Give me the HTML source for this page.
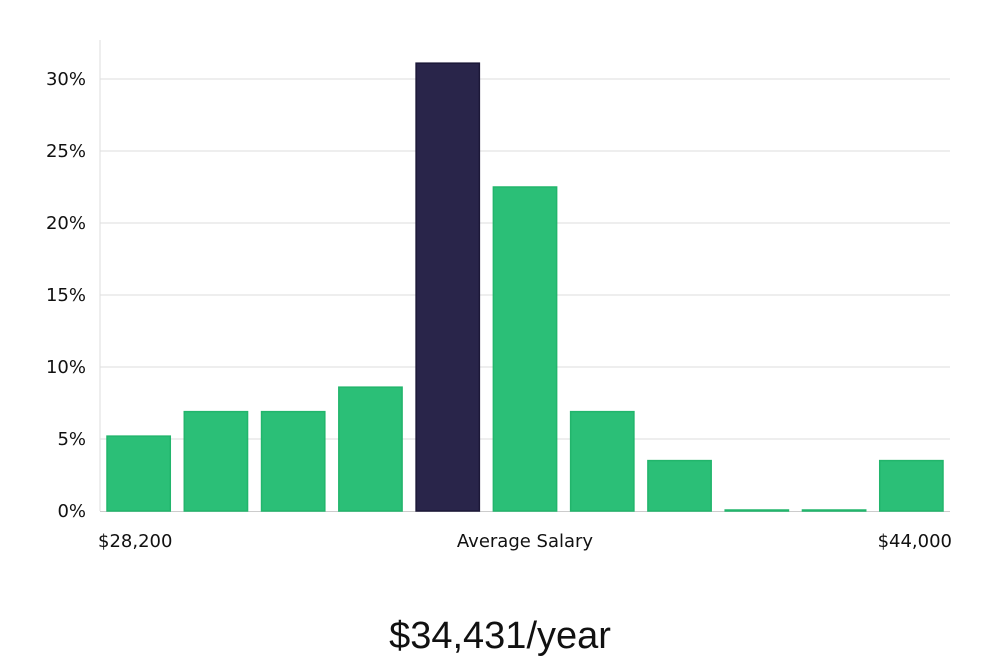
<!DOCTYPE html>
<html><head><meta charset="utf-8"><style>
body{margin:0;background:#fff;width:1000px;height:660px;overflow:hidden;font-family:"Liberation Sans","DejaVu Sans",sans-serif}
svg text{font-family:"DejaVu Sans","Liberation Sans",sans-serif;fill:#111}
</style></head><body>
<svg width="1000" height="660">
<g id="grid"></g><g id="bars"></g><g id="labels"></g>
<text x="500" y="648" text-anchor="middle" font-size="38" style="font-family:'Liberation Sans',sans-serif;font-weight:300">$34,431/year</text>
</svg>
<script>
const categories=["b1","b2","b3","b4","b5","b6","b7","b8","b9","b10","b11"];
const values=[5.2,6.9,6.9,8.6,31.1,22.5,6.9,3.5,0,0,3.5];
const highlightIndex=4;
const yTicks=[0,5,10,15,20,25,30];
const xLabels=["$28,200","Average Salary","$44,000"];
const NS="http://www.w3.org/2000/svg";
const x0=100,x1=950,yBase=511,pxPerPct=14.4;
const y=v=>yBase-v*pxPerPct;
const slot=(x1-x0)/categories.length;
const xs=i=>x0+i*slot;
function mk(t,a,p){const e=document.createElementNS(NS,t);for(const k in a)e.setAttribute(k,a[k]);p.appendChild(e);return e;}
const g=document.getElementById('grid'),b=document.getElementById('bars'),l=document.getElementById('labels');
const ax=mk('line',{x1:x0,x2:x0,y1:40,y2:yBase,stroke:'#ddd'},g);


yTicks.forEach(t=>{
 if(t>0){const ln=mk('line',{x1:x0,x2:x1,y1:y(t),y2:y(t),stroke:'#ddd'},g);
 
 }
 const tx=mk('text',{x:86,y:y(t)+6,'text-anchor':'end','font-size':18},l);tx.textContent=t+'%';
 
 
});
const bl=mk('line',{x1:x0,x2:x1,y1:yBase+0.5,y2:yBase+0.5,stroke:'#ccc'},g);


values.forEach((v,i)=>{
 const h=Math.max(v*pxPerPct,1);
 const hi=i===highlightIndex;
 const r=mk('rect',{x:xs(i)+7,y:yBase-h,width:slot-14,height:h,fill:hi?'#29254a':'#2bbf77',stroke:hi?'#1c1838':'#22b56c','stroke-width':1.5},b);
 
 
});
[[98,'start'],[525,'middle'],[952,'end']].forEach((p,i)=>{
 const t=mk('text',{x:p[0],y:547,'text-anchor':p[1],'font-size':18},l);t.textContent=xLabels[i];
 
 
});
</script>
</body></html>
